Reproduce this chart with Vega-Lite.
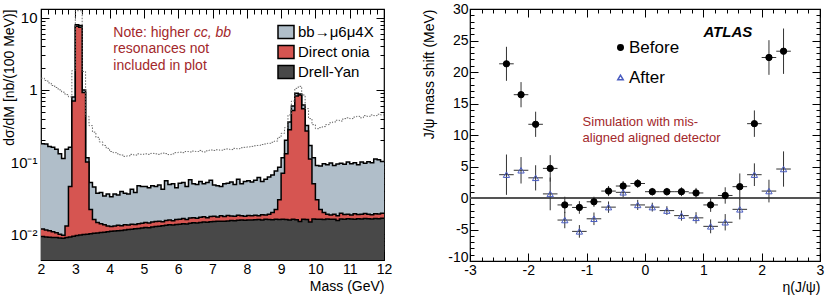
{
"$schema": "https://vega.github.io/schema/vega-lite/v6.json",
"padding": {"left": 1, "top": 1, "right": 0, "bottom": 0},
"config": {
  "font": "Liberation Sans",
  "view": {"stroke": "black", "strokeWidth": 1.2},
  "axis": {"domain": false, "grid": false, "labelColor": "black", "tickColor": "black", "titleColor": "black", "titleFontWeight": "normal", "labelFontSize": 14, "titleFontSize": 14, "tickWidth": 1}
},
"bounds": "flush",
"spacing": 86,
"hconcat": [
{
  "width": 343, "height": 251,
  "data": {"values": [
{"m":2.0,"dy":0.0093,"on":0.0118,"bb":0.180,"nc":1.45},
{"m":2.1,"dy":0.0092,"on":0.0115,"bb":0.178,"nc":1.35},
{"m":2.2,"dy":0.0091,"on":0.0112,"bb":0.165,"nc":1.25},
{"m":2.3,"dy":0.0090,"on":0.0108,"bb":0.160,"nc":1.15},
{"m":2.4,"dy":0.0090,"on":0.0105,"bb":0.150,"nc":1.08},
{"m":2.5,"dy":0.0089,"on":0.0100,"bb":0.130,"nc":1.00},
{"m":2.6,"dy":0.0088,"on":0.0097,"bb":0.112,"nc":0.93},
{"m":2.7,"dy":0.0090,"on":0.0130,"bb":0.150,"nc":0.86},
{"m":2.8,"dy":0.0092,"on":0.0460,"bb":0.160,"nc":0.80},
{"m":2.9,"dy":0.0094,"on":0.70,"bb":0.80,"nc":1.85},
{"m":3.0,"dy":0.0096,"on":7.6,"bb":8.0,"nc":12.5},
{"m":3.1,"dy":0.0098,"on":7.4,"bb":7.8,"nc":12.5},
{"m":3.2,"dy":0.0099,"on":0.92,"bb":1.00,"nc":1.80},
{"m":3.3,"dy":0.0100,"on":0.10,"bb":0.115,"nc":0.43},
{"m":3.4,"dy":0.0102,"on":0.022,"bb":0.052,"nc":0.32},
{"m":3.5,"dy":0.0103,"on":0.016,"bb":0.045,"nc":0.26},
{"m":3.6,"dy":0.0104,"on":0.0145,"bb":0.037,"nc":0.22},
{"m":3.7,"dy":0.0106,"on":0.0140,"bb":0.038,"nc":0.19},
{"m":3.8,"dy":0.0107,"on":0.0135,"bb":0.034,"nc":0.17},
{"m":3.9,"dy":0.0108,"on":0.0130,"bb":0.036,"nc":0.155},
{"m":4.0,"dy":0.0110,"on":0.0128,"bb":0.033,"nc":0.140},
{"m":4.1,"dy":0.0111,"on":0.0130,"bb":0.036,"nc":0.135},
{"m":4.2,"dy":0.0112,"on":0.0133,"bb":0.035,"nc":0.130},
{"m":4.3,"dy":0.0113,"on":0.0131,"bb":0.039,"nc":0.125},
{"m":4.4,"dy":0.0115,"on":0.0135,"bb":0.037,"nc":0.120},
{"m":4.5,"dy":0.0116,"on":0.0134,"bb":0.036,"nc":0.122},
{"m":4.6,"dy":0.0117,"on":0.0138,"bb":0.042,"nc":0.128},
{"m":4.7,"dy":0.0119,"on":0.0137,"bb":0.038,"nc":0.125},
{"m":4.8,"dy":0.0120,"on":0.0140,"bb":0.047,"nc":0.130},
{"m":4.9,"dy":0.0122,"on":0.0142,"bb":0.046,"nc":0.128},
{"m":5.0,"dy":0.0124,"on":0.0145,"bb":0.046,"nc":0.130},
{"m":5.1,"dy":0.0123,"on":0.0143,"bb":0.044,"nc":0.128},
{"m":5.2,"dy":0.0126,"on":0.0148,"bb":0.047,"nc":0.132},
{"m":5.3,"dy":0.0128,"on":0.0150,"bb":0.046,"nc":0.130},
{"m":5.4,"dy":0.0129,"on":0.0152,"bb":0.048,"nc":0.128},
{"m":5.5,"dy":0.0131,"on":0.0149,"bb":0.042,"nc":0.133},
{"m":5.6,"dy":0.0133,"on":0.0155,"bb":0.055,"nc":0.131},
{"m":5.7,"dy":0.0135,"on":0.0157,"bb":0.049,"nc":0.127},
{"m":5.8,"dy":0.0134,"on":0.0154,"bb":0.050,"nc":0.130},
{"m":5.9,"dy":0.0137,"on":0.0160,"bb":0.044,"nc":0.135},
{"m":6.0,"dy":0.0138,"on":0.0162,"bb":0.051,"nc":0.137},
{"m":6.1,"dy":0.0140,"on":0.0165,"bb":0.052,"nc":0.135},
{"m":6.2,"dy":0.0139,"on":0.0160,"bb":0.046,"nc":0.140},
{"m":6.3,"dy":0.0142,"on":0.0168,"bb":0.057,"nc":0.138},
{"m":6.4,"dy":0.0144,"on":0.0170,"bb":0.050,"nc":0.142},
{"m":6.5,"dy":0.0143,"on":0.0166,"bb":0.049,"nc":0.140},
{"m":6.6,"dy":0.0146,"on":0.0172,"bb":0.054,"nc":0.145},
{"m":6.7,"dy":0.0148,"on":0.0175,"bb":0.050,"nc":0.138},
{"m":6.8,"dy":0.0147,"on":0.0170,"bb":0.052,"nc":0.143},
{"m":6.9,"dy":0.0149,"on":0.0176,"bb":0.056,"nc":0.147},
{"m":7.0,"dy":0.0150,"on":0.0178,"bb":0.048,"nc":0.145},
{"m":7.1,"dy":0.0151,"on":0.0174,"bb":0.047,"nc":0.148},
{"m":7.2,"dy":0.0152,"on":0.0180,"bb":0.046,"nc":0.146},
{"m":7.3,"dy":0.0151,"on":0.0176,"bb":0.050,"nc":0.150},
{"m":7.4,"dy":0.0153,"on":0.0182,"bb":0.051,"nc":0.152},
{"m":7.5,"dy":0.0155,"on":0.0179,"bb":0.053,"nc":0.149},
{"m":7.6,"dy":0.0154,"on":0.0177,"bb":0.049,"nc":0.155},
{"m":7.7,"dy":0.0156,"on":0.0183,"bb":0.058,"nc":0.153},
{"m":7.8,"dy":0.0157,"on":0.0180,"bb":0.050,"nc":0.158},
{"m":7.9,"dy":0.0156,"on":0.0178,"bb":0.054,"nc":0.160},
{"m":8.0,"dy":0.0158,"on":0.0182,"bb":0.055,"nc":0.162},
{"m":8.1,"dy":0.0157,"on":0.0180,"bb":0.053,"nc":0.165},
{"m":8.2,"dy":0.0159,"on":0.0184,"bb":0.056,"nc":0.168},
{"m":8.3,"dy":0.0160,"on":0.0181,"bb":0.061,"nc":0.170},
{"m":8.4,"dy":0.0158,"on":0.0186,"bb":0.054,"nc":0.175},
{"m":8.5,"dy":0.0161,"on":0.0185,"bb":0.058,"nc":0.178},
{"m":8.6,"dy":0.0160,"on":0.0190,"bb":0.062,"nc":0.182},
{"m":8.7,"dy":0.0159,"on":0.0200,"bb":0.066,"nc":0.188},
{"m":8.8,"dy":0.0161,"on":0.0220,"bb":0.075,"nc":0.195},
{"m":8.9,"dy":0.0160,"on":0.0300,"bb":0.085,"nc":0.220},
{"m":9.0,"dy":0.0162,"on":0.070,"bb":0.115,"nc":0.25},
{"m":9.1,"dy":0.0160,"on":0.13,"bb":0.20,"nc":0.30},
{"m":9.2,"dy":0.0158,"on":0.28,"bb":0.36,"nc":0.45},
{"m":9.3,"dy":0.0161,"on":0.52,"bb":0.60,"nc":0.70},
{"m":9.4,"dy":0.0159,"on":0.82,"bb":0.90,"nc":1.05},
{"m":9.5,"dy":0.0150,"on":0.85,"bb":0.88,"nc":1.12},
{"m":9.6,"dy":0.0162,"on":0.55,"bb":0.62,"nc":0.85},
{"m":9.7,"dy":0.0160,"on":0.27,"bb":0.32,"nc":0.55},
{"m":9.8,"dy":0.0148,"on":0.11,"bb":0.17,"nc":0.40},
{"m":9.9,"dy":0.0163,"on":0.050,"bb":0.115,"nc":0.33},
{"m":10.0,"dy":0.0161,"on":0.030,"bb":0.090,"nc":0.29},
{"m":10.1,"dy":0.0162,"on":0.022,"bb":0.088,"nc":0.30},
{"m":10.2,"dy":0.0160,"on":0.020,"bb":0.095,"nc":0.31},
{"m":10.3,"dy":0.0163,"on":0.019,"bb":0.092,"nc":0.33},
{"m":10.4,"dy":0.0162,"on":0.0185,"bb":0.097,"nc":0.35},
{"m":10.5,"dy":0.0161,"on":0.019,"bb":0.090,"nc":0.36},
{"m":10.6,"dy":0.0155,"on":0.0180,"bb":0.094,"nc":0.38},
{"m":10.7,"dy":0.0163,"on":0.0195,"bb":0.096,"nc":0.37},
{"m":10.8,"dy":0.0162,"on":0.0188,"bb":0.093,"nc":0.40},
{"m":10.9,"dy":0.0164,"on":0.0190,"bb":0.100,"nc":0.41},
{"m":11.0,"dy":0.0163,"on":0.0185,"bb":0.095,"nc":0.40},
{"m":11.1,"dy":0.0162,"on":0.0192,"bb":0.098,"nc":0.42},
{"m":11.2,"dy":0.0164,"on":0.0188,"bb":0.092,"nc":0.43},
{"m":11.3,"dy":0.0163,"on":0.0190,"bb":0.100,"nc":0.41},
{"m":11.4,"dy":0.0165,"on":0.0194,"bb":0.096,"nc":0.44},
{"m":11.5,"dy":0.0164,"on":0.0189,"bb":0.101,"nc":0.43},
{"m":11.6,"dy":0.0163,"on":0.0186,"bb":0.098,"nc":0.45},
{"m":11.7,"dy":0.0165,"on":0.0193,"bb":0.110,"nc":0.44},
{"m":11.8,"dy":0.0164,"on":0.0191,"bb":0.108,"nc":0.46},
{"m":11.9,"dy":0.0166,"on":0.0195,"bb":0.102,"nc":0.45},
{"m":12.0,"dy":0.0166,"on":0.0195,"bb":0.102,"nc":0.45}
  ]},
  "resolve": {"axis": {"x": "independent", "y": "independent"}},
  "layer": [
    {"mark": {"type": "area", "interpolate": "step-after", "clip": true},
     "encoding": {
       "x": {"field": "m", "type": "quantitative", "scale": {"domain": [2, 12], "nice": false, "zero": false},
             "axis": {"orient": "bottom", "values": [2,2.2,2.4,2.6,2.8,3,3.2,3.4,3.6,3.8,4,4.2,4.4,4.6,4.8,5,5.2,5.4,5.6,5.8,6,6.2,6.4,6.6,6.8,7,7.2,7.4,7.6,7.8,8,8.2,8.4,8.6,8.8,9,9.2,9.4,9.6,9.8,10,10.2,10.4,10.6,10.8,11,11.2,11.4,11.6,11.8,12],
                      "labelExpr": "abs(datum.value-round(datum.value))<0.01 ? ''+round(datum.value) : ''",
                      "tickSize": {"condition": {"test": "abs(datum.value-round(datum.value))<0.01", "value": -9}, "value": -5},
                      "labelPadding": 11, "labelFlush": false, "labelOverlap": false,
                      "title": "Mass (GeV)", "titleAnchor": "end", "titleY": 19}},
       "y": {"field": "bb", "type": "quantitative", "scale": {"type": "log", "domain": [0.0044, 13.2], "nice": false},
             "axis": {"orient": "left", "values": [0.005,0.006,0.007,0.008,0.009,0.01,0.02,0.03,0.04,0.05,0.06,0.07,0.08,0.09,0.1,0.2,0.3,0.4,0.5,0.6,0.7,0.8,0.9,1,2,3,4,5,6,7,8,9,10],
                      "labelExpr": "datum.value==10?'10':datum.value==1?'1':datum.value==0.1?'10⁻¹':datum.value==0.01?'10⁻²':''",
                      "tickSize": {"condition": {"test": "datum.value==0.01||datum.value==0.1||datum.value==1||datum.value==10", "value": -8}, "value": -4},
                      "labelPadding": 12, "labelFontSize": 15, "labelFlush": false, "labelOverlap": false,
                      "title": "dσ/dM [nb/(100 MeV)]", "titleAnchor": "end", "titleX": -25}},
       "y2": {"datum": 0.0044},
       "color": {"datum": "bb→μ6μ4X", "type": "nominal",
                 "scale": {"domain": ["bb→μ6μ4X", "Direct onia", "Drell-Yan"], "range": ["#b0bec9", "#d65551", "#484848"]},
                 "legend": {"title": null, "orient": "none", "legendX": 236, "legendY": 14, "padding": 0,
                            "symbolType": "M-1,-0.8H1V0.8H-1Z", "symbolSize": 256, "symbolOpacity": 1,
                            "labelFontSize": 15, "labelColor": "black", "labelOffset": 3, "rowPadding": 0,
                            "encode": {"symbols": {"update": {"stroke": {"value": "black"}, "strokeWidth": {"value": 1.5}}}}}}
     }},
    {"mark": {"type": "line", "interpolate": "step-after", "color": "black", "strokeWidth": 1.5, "clip": true},
     "encoding": {
       "x": {"field": "m", "type": "quantitative",
             "axis": {"orient": "top", "values": [2,2.2,2.4,2.6,2.8,3,3.2,3.4,3.6,3.8,4,4.2,4.4,4.6,4.8,5,5.2,5.4,5.6,5.8,6,6.2,6.4,6.6,6.8,7,7.2,7.4,7.6,7.8,8,8.2,8.4,8.6,8.8,9,9.2,9.4,9.6,9.8,10,10.2,10.4,10.6,10.8,11,11.2,11.4,11.6,11.8,12],
                      "labels": false, "title": null,
                      "tickSize": {"condition": {"test": "abs(datum.value-round(datum.value))<0.01", "value": -9}, "value": -5}}},
       "y": {"field": "bb", "type": "quantitative",
             "axis": {"orient": "right", "values": [0.005,0.006,0.007,0.008,0.009,0.01,0.02,0.03,0.04,0.05,0.06,0.07,0.08,0.09,0.1,0.2,0.3,0.4,0.5,0.6,0.7,0.8,0.9,1,2,3,4,5,6,7,8,9,10],
                      "labels": false, "title": null,
                      "tickSize": {"condition": {"test": "datum.value==0.01||datum.value==0.1||datum.value==1||datum.value==10", "value": -8}, "value": -4}}}
     }},
    {"mark": {"type": "area", "interpolate": "step-after", "clip": true},
     "encoding": {
       "x": {"field": "m", "type": "quantitative", "axis": null},
       "y": {"field": "on", "type": "quantitative", "axis": null},
       "y2": {"datum": 0.0044},
       "color": {"datum": "Direct onia", "type": "nominal"}
     }},
    {"mark": {"type": "line", "interpolate": "step-after", "color": "black", "strokeWidth": 1.5, "clip": true},
     "encoding": {
       "x": {"field": "m", "type": "quantitative", "axis": null},
       "y": {"field": "on", "type": "quantitative", "axis": null}
     }},
    {"mark": {"type": "area", "interpolate": "step-after", "clip": true},
     "encoding": {
       "x": {"field": "m", "type": "quantitative", "axis": null},
       "y": {"field": "dy", "type": "quantitative", "axis": null},
       "y2": {"datum": 0.0044},
       "color": {"datum": "Drell-Yan", "type": "nominal"}
     }},
    {"mark": {"type": "line", "interpolate": "step-after", "color": "black", "strokeWidth": 1.5, "clip": true},
     "encoding": {
       "x": {"field": "m", "type": "quantitative", "axis": null},
       "y": {"field": "dy", "type": "quantitative", "axis": null}
     }},
    {"mark": {"type": "line", "interpolate": "step-after", "color": "#666", "strokeWidth": 1, "strokeDash": [1.5, 1.5], "clip": true},
     "encoding": {
       "x": {"field": "m", "type": "quantitative", "axis": null},
       "y": {"field": "nc", "type": "quantitative", "axis": null}
     }},
    {"data": {"values": [{}]},
     "mark": {"type": "text", "text": "Note: higher", "align": "left", "baseline": "middle", "fontSize": 14, "color": "#a3282b"},
     "encoding": {"x": {"datum": 4.11, "type": "quantitative", "axis": null}, "y": {"datum": 6.13, "type": "quantitative", "axis": null}}},
    {"data": {"values": [{}]},
     "mark": {"type": "text", "text": "cc, bb", "align": "left", "baseline": "middle", "fontSize": 14, "fontStyle": "italic", "color": "#a3282b"},
     "encoding": {"x": {"datum": 6.45, "type": "quantitative", "axis": null}, "y": {"datum": 6.13, "type": "quantitative", "axis": null}}},
    {"data": {"values": [{}]},
     "mark": {"type": "text", "text": "resonances not", "align": "left", "baseline": "middle", "fontSize": 14, "color": "#a3282b"},
     "encoding": {"x": {"datum": 4.11, "type": "quantitative", "axis": null}, "y": {"datum": 3.67, "type": "quantitative", "axis": null}}},
    {"data": {"values": [{}]},
     "mark": {"type": "text", "text": "included in plot", "align": "left", "baseline": "middle", "fontSize": 14, "color": "#a3282b"},
     "encoding": {"x": {"datum": 4.11, "type": "quantitative", "axis": null}, "y": {"datum": 2.15, "type": "quantitative", "axis": null}}}
  ]
},
{
  "width": 350, "height": 252,
  "data": {"values": [
{"set":"Before","eta":-2.375,"val":21.3,"err":2.7,"xe":0.125},
{"set":"Before","eta":-2.125,"val":16.4,"err":2.0,"xe":0.125},
{"set":"Before","eta":-1.875,"val":11.7,"err":2.0,"xe":0.125},
{"set":"Before","eta":-1.625,"val":4.7,"err":2.1,"xe":0.125},
{"set":"Before","eta":-1.375,"val":-1.1,"err":1.3,"xe":0.125},
{"set":"Before","eta":-1.125,"val":-1.5,"err":1.0,"xe":0.125},
{"set":"Before","eta":-0.875,"val":-0.6,"err":0.8,"xe":0.125},
{"set":"Before","eta":-0.625,"val":1.1,"err":0.8,"xe":0.125},
{"set":"Before","eta":-0.375,"val":1.9,"err":0.8,"xe":0.125},
{"set":"Before","eta":-0.125,"val":2.3,"err":0.7,"xe":0.125},
{"set":"Before","eta":0.125,"val":1.0,"err":0.6,"xe":0.125},
{"set":"Before","eta":0.375,"val":1.0,"err":0.6,"xe":0.125},
{"set":"Before","eta":0.625,"val":1.0,"err":0.7,"xe":0.125},
{"set":"Before","eta":0.875,"val":0.8,"err":0.8,"xe":0.125},
{"set":"Before","eta":1.125,"val":-1.1,"err":1.1,"xe":0.125},
{"set":"Before","eta":1.375,"val":0.4,"err":1.3,"xe":0.125},
{"set":"Before","eta":1.625,"val":1.8,"err":2.1,"xe":0.125},
{"set":"Before","eta":1.875,"val":11.8,"err":2.1,"xe":0.125},
{"set":"Before","eta":2.125,"val":22.3,"err":2.75,"xe":0.125},
{"set":"Before","eta":2.375,"val":23.3,"err":3.6,"xe":0.125},
{"set":"After","eta":-2.375,"val":3.7,"err":3.2,"xe":0.125},
{"set":"After","eta":-2.125,"val":4.4,"err":2.1,"xe":0.125},
{"set":"After","eta":-1.875,"val":3.2,"err":2.0,"xe":0.125},
{"set":"After","eta":-1.625,"val":0.65,"err":2.6,"xe":0.125},
{"set":"After","eta":-1.375,"val":-3.5,"err":1.3,"xe":0.125},
{"set":"After","eta":-1.125,"val":-5.3,"err":1.0,"xe":0.125},
{"set":"After","eta":-0.875,"val":-3.3,"err":1.0,"xe":0.125},
{"set":"After","eta":-0.625,"val":-1.45,"err":0.9,"xe":0.125},
{"set":"After","eta":-0.375,"val":0.9,"err":0.8,"xe":0.125},
{"set":"After","eta":-0.125,"val":-1.1,"err":0.8,"xe":0.125},
{"set":"After","eta":0.125,"val":-1.45,"err":0.7,"xe":0.125},
{"set":"After","eta":0.375,"val":-2.0,"err":0.7,"xe":0.125},
{"set":"After","eta":0.625,"val":-2.8,"err":0.8,"xe":0.125},
{"set":"After","eta":0.875,"val":-3.15,"err":0.9,"xe":0.125},
{"set":"After","eta":1.125,"val":-4.5,"err":1.1,"xe":0.125},
{"set":"After","eta":1.375,"val":-3.85,"err":1.3,"xe":0.125},
{"set":"After","eta":1.625,"val":-1.8,"err":1.6,"xe":0.125},
{"set":"After","eta":1.875,"val":3.7,"err":1.8,"xe":0.125},
{"set":"After","eta":2.125,"val":1.1,"err":1.8,"xe":0.125},
{"set":"After","eta":2.375,"val":4.6,"err":2.8,"xe":0.125}
  ]},
  "resolve": {"axis": {"x": "independent", "y": "independent"}},
  "layer": [
    {"mark": {"type": "rule", "color": "#555", "strokeWidth": 1.5},
     "encoding": {"y": {"datum": 0, "type": "quantitative", "axis": null}}},
    {"mark": {"type": "errorbar", "color": "#333", "thickness": 1},
     "encoding": {
       "x": {"field": "eta", "type": "quantitative", "axis": null},
       "y": {"field": "val", "type": "quantitative", "axis": null},
       "yError": {"field": "err"}
     }},
    {"mark": {"type": "errorbar", "color": "#333", "thickness": 1},
     "encoding": {
       "y": {"field": "val", "type": "quantitative", "axis": null},
       "x": {"field": "eta", "type": "quantitative", "axis": null},
       "xError": {"field": "xe"}
     }},
    {"mark": {"type": "point", "size": 40, "strokeWidth": 1, "opacity": 1},
     "encoding": {
       "x": {"field": "eta", "type": "quantitative", "scale": {"domain": [-3, 3], "nice": false, "zero": false},
             "axis": {"orient": "bottom", "values": [-3,-2.8,-2.6,-2.4,-2.2,-2,-1.8,-1.6,-1.4,-1.2,-1,-0.8,-0.6,-0.4,-0.2,0,0.2,0.4,0.6,0.8,1,1.2,1.4,1.6,1.8,2,2.2,2.4,2.6,2.8,3],
                      "labelExpr": "abs(datum.value-round(datum.value))<0.01 ? ''+round(datum.value) : ''",
                      "tickSize": {"condition": {"test": "abs(datum.value-round(datum.value))<0.01", "value": -8}, "value": -4},
                      "labelPadding": 10, "labelFlush": false, "labelOverlap": false,
                      "title": "η(J/ψ)", "titleAnchor": "end", "titleY": 19}},
       "y": {"field": "val", "type": "quantitative", "scale": {"domain": [-10, 30], "nice": false, "zero": false},
             "axis": {"orient": "left", "values": [-10,-9,-8,-7,-6,-5,-4,-3,-2,-1,0,1,2,3,4,5,6,7,8,9,10,11,12,13,14,15,16,17,18,19,20,21,22,23,24,25,26,27,28,29,30],
                      "labelExpr": "datum.value%5==0 ? ''+datum.value : ''",
                      "labelBaseline": {"condition": {"test": "datum.value==-10", "value": "alphabetic"}, "value": "middle"},
                      "tickSize": {"condition": {"test": "datum.value%5==0", "value": -8}, "value": -4},
                      "labelPadding": 10, "labelFlush": false, "labelOverlap": false,
                      "title": "J/ψ mass shift (MeV)", "titleAnchor": "end", "titleX": -34}},
       "shape": {"field": "set", "type": "nominal", "scale": {"domain": ["Before", "After"], "range": ["circle", "triangle-up"]},
                 "legend": {"title": null, "orient": "none", "legendX": 571, "legendY": 30, "padding": 0, "labelFontSize": 17, "labelColor": "black", "labelOffset": 0, "rowPadding": 12, "symbolSize": 30}},
       "fill": {"field": "set", "type": "nominal", "scale": {"domain": ["Before", "After"], "range": ["black", "transparent"]}},
       "stroke": {"field": "set", "type": "nominal", "scale": {"domain": ["Before", "After"], "range": ["black", "#4a5cc0"]}}
     }},
    {"data": {"values": [{}]},
     "mark": {"type": "text", "text": "ATLAS", "align": "center", "baseline": "middle", "fontSize": 15, "fontWeight": "bold", "fontStyle": "italic", "color": "black"},
     "encoding": {
       "x": {"datum": 1.42, "type": "quantitative",
             "axis": {"orient": "top", "values": [-3,-2.8,-2.6,-2.4,-2.2,-2,-1.8,-1.6,-1.4,-1.2,-1,-0.8,-0.6,-0.4,-0.2,0,0.2,0.4,0.6,0.8,1,1.2,1.4,1.6,1.8,2,2.2,2.4,2.6,2.8,3],
                      "labels": false, "title": null,
                      "tickSize": {"condition": {"test": "abs(datum.value-round(datum.value))<0.01", "value": -8}, "value": -4}}},
       "y": {"datum": 26.4, "type": "quantitative",
             "axis": {"orient": "right", "values": [-10,-9,-8,-7,-6,-5,-4,-3,-2,-1,0,1,2,3,4,5,6,7,8,9,10,11,12,13,14,15,16,17,18,19,20,21,22,23,24,25,26,27,28,29,30],
                      "labels": false, "title": null,
                      "tickSize": {"condition": {"test": "datum.value%5==0", "value": -8}, "value": -4}}}
     }},
    {"data": {"values": [{}]},
     "mark": {"type": "text", "text": "Simulation with mis-", "align": "left", "baseline": "middle", "fontSize": 13, "color": "#a3282b"},
     "encoding": {"x": {"datum": -1.07, "type": "quantitative", "axis": null}, "y": {"datum": 12.1, "type": "quantitative", "axis": null}}},
    {"data": {"values": [{}]},
     "mark": {"type": "text", "text": "aligned aligned detector", "align": "left", "baseline": "middle", "fontSize": 13, "color": "#a3282b"},
     "encoding": {"x": {"datum": -1.07, "type": "quantitative", "axis": null}, "y": {"datum": 9.6, "type": "quantitative", "axis": null}}}
  ]
}
]
}
